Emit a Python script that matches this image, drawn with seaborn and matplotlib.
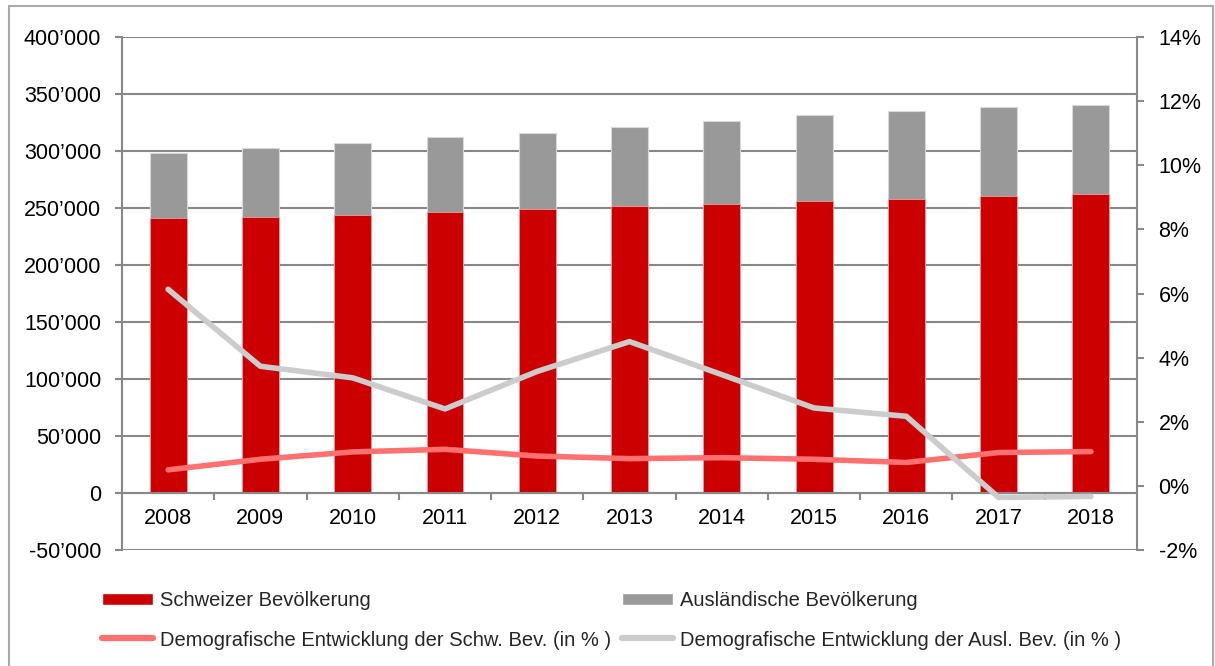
import numpy as np
import pandas as pd
import matplotlib
matplotlib.use("Agg")
import matplotlib.pyplot as plt
import seaborn as sns
from matplotlib.ticker import FixedLocator, FuncFormatter
from matplotlib.patches import Patch, Rectangle
from matplotlib.lines import Line2D

# ---- data ----
years = ["2008", "2009", "2010", "2011", "2012", "2013", "2014", "2015", "2016", "2017", "2018"]
schweizer = [240900, 241800, 244200, 246500, 249400, 251400, 253800, 256100, 258100, 260100, 262500]
auslaender = [57100, 61100, 62800, 65700, 66600, 69700, 72500, 75100, 76800, 78600, 78200]
entw_schw = [0.50, 0.83, 1.06, 1.14, 0.93, 0.85, 0.88, 0.83, 0.73, 1.04, 1.07]
entw_ausl = [6.13, 3.73, 3.37, 2.40, 3.57, 4.50, 3.47, 2.43, 2.17, -0.36, -0.33]

lab_schw = "Schweizer Bevölkerung"
lab_ausl = "Ausländische Bevölkerung"
lab_lschw = "Demografische Entwicklung der Schw. Bev. (in % )"
lab_lausl = "Demografische Entwicklung der Ausl. Bev. (in % )"

C_RED = "#cc0000"
C_GRAY = "#999999"
C_LRED = "#ff7070"
C_LGRAY = "#cccccc"
C_AX = "#888888"

sns.set_style("white")
plt.rcParams["font.family"] = ["Liberation Sans", "DejaVu Sans"]

df = pd.DataFrame({
    "year": years,
    "schweizer": schweizer,
    "total": np.array(schweizer) + np.array(auslaender),
    "idx": np.arange(len(years)),
    "p_schw": np.array(entw_schw) / 100,
    "p_ausl": np.array(entw_ausl) / 100,
})

fig = plt.figure(figsize=(12.15, 6.66), dpi=100)
ax = fig.add_axes([122 / 1215, 1 - 550 / 666, (1137 - 122) / 1215, (550 - 37) / 666])

sns.barplot(data=df, x="year", y="total", color=C_GRAY, saturation=1, width=0.4,
            edgecolor="#d8d8d8", linewidth=0.8, ax=ax, zorder=2)
sns.barplot(data=df, x="year", y="schweizer", color=C_RED, saturation=1, width=0.4,
            edgecolor="#e8a0a0", linewidth=0.6, ax=ax, zorder=2)

ax.set_xlim(-0.5, len(years) - 0.5)
ax.set_ylim(-50000, 400000)
ax.set_yticks(np.arange(-50000, 400001, 50000))
ax.yaxis.set_major_formatter(FuncFormatter(
    lambda v, p: "0" if v == 0 else ("-" if v < 0 else "") + f"{abs(int(v)):,}".replace(",", "\u2019")))
ax.set_axisbelow(True)
ax.yaxis.grid(True, color=C_AX, linewidth=1.5)
ax.xaxis.grid(False)
ax.set_xlabel("")
ax.set_ylabel("")

for s in ["top", "right"]:
    ax.spines[s].set_visible(False)
ax.spines["left"].set_color(C_AX)
ax.spines["left"].set_linewidth(1.5)
ax.spines["bottom"].set_position(("data", 0))
ax.spines["bottom"].set_color(C_AX)
ax.spines["bottom"].set_linewidth(1.5)
ax.spines["bottom"].set_zorder(3)

ax.tick_params(axis="y", which="major", left=True, length=5, width=1.5, color=C_AX,
               labelsize=15.5, labelcolor="black", pad=10)
ax.tick_params(axis="x", which="major", bottom=True, length=0, labelsize=15.5,
               labelcolor="black", pad=11)
ax.xaxis.set_minor_locator(FixedLocator(np.arange(0.5, len(years) - 1, 1.0)))
ax.tick_params(axis="x", which="minor", bottom=True, length=5, width=1.5, color=C_AX,
               direction="out")

ax2 = ax.twinx()
sns.lineplot(data=df, x="idx", y="p_schw", color=C_LRED, linewidth=4,
             solid_capstyle="round", ax=ax2, zorder=4)
sns.lineplot(data=df, x="idx", y="p_ausl", color=C_LGRAY, linewidth=4,
             solid_capstyle="round", ax=ax2, zorder=4)
ax2.set_ylim(-0.02, 0.14)
ax2.set_yticks(np.arange(-0.02, 0.1401, 0.02))
ax2.yaxis.set_major_formatter(FuncFormatter(lambda v, p: f"{round(v * 100):d}%"))
ax2.set_xlim(-0.5, len(years) - 0.5)
ax2.set_xlabel("")
ax2.set_ylabel("")
for s in ["top", "left", "bottom"]:
    ax2.spines[s].set_visible(False)
ax2.spines["right"].set_color(C_AX)
ax2.spines["right"].set_linewidth(1.5)
ax2.tick_params(axis="y", right=True, length=5, width=1.5, color=C_AX,
                labelsize=15.5, labelcolor="black", pad=10.5)
ax2.grid(False)

# outer frame
fig.add_artist(Rectangle((9 / 1215, -0.05), (1213 - 9) / 1215, 1 - 6 / 666 + 0.05,
                         transform=fig.transFigure, fill=False, edgecolor="#aaaaaa",
                         linewidth=1.5))

# legends
leg_kw = dict(loc="center left", frameon=False, borderpad=0, borderaxespad=0,
              handlelength=2.55, handletextpad=0.35, fontsize=14.5)
entries = [
    (Patch(facecolor=C_RED), lab_schw, 102, 601, 0.55),
    (Patch(facecolor=C_GRAY), lab_ausl, 622, 601, 0.55),
    (Line2D([], [], color=C_LRED, linewidth=4.5, solid_capstyle="round"), lab_lschw, 102, 640, 0.7),
    (Line2D([], [], color=C_LGRAY, linewidth=4.5, solid_capstyle="round"), lab_lausl, 622, 640, 0.7),
]
for h, lab, px, py, hh in entries:
    fig.legend([h], [lab], bbox_to_anchor=(px / 1215, 1 - py / 666), handleheight=hh, **leg_kw)

fig.savefig("out.png", dpi=100)
